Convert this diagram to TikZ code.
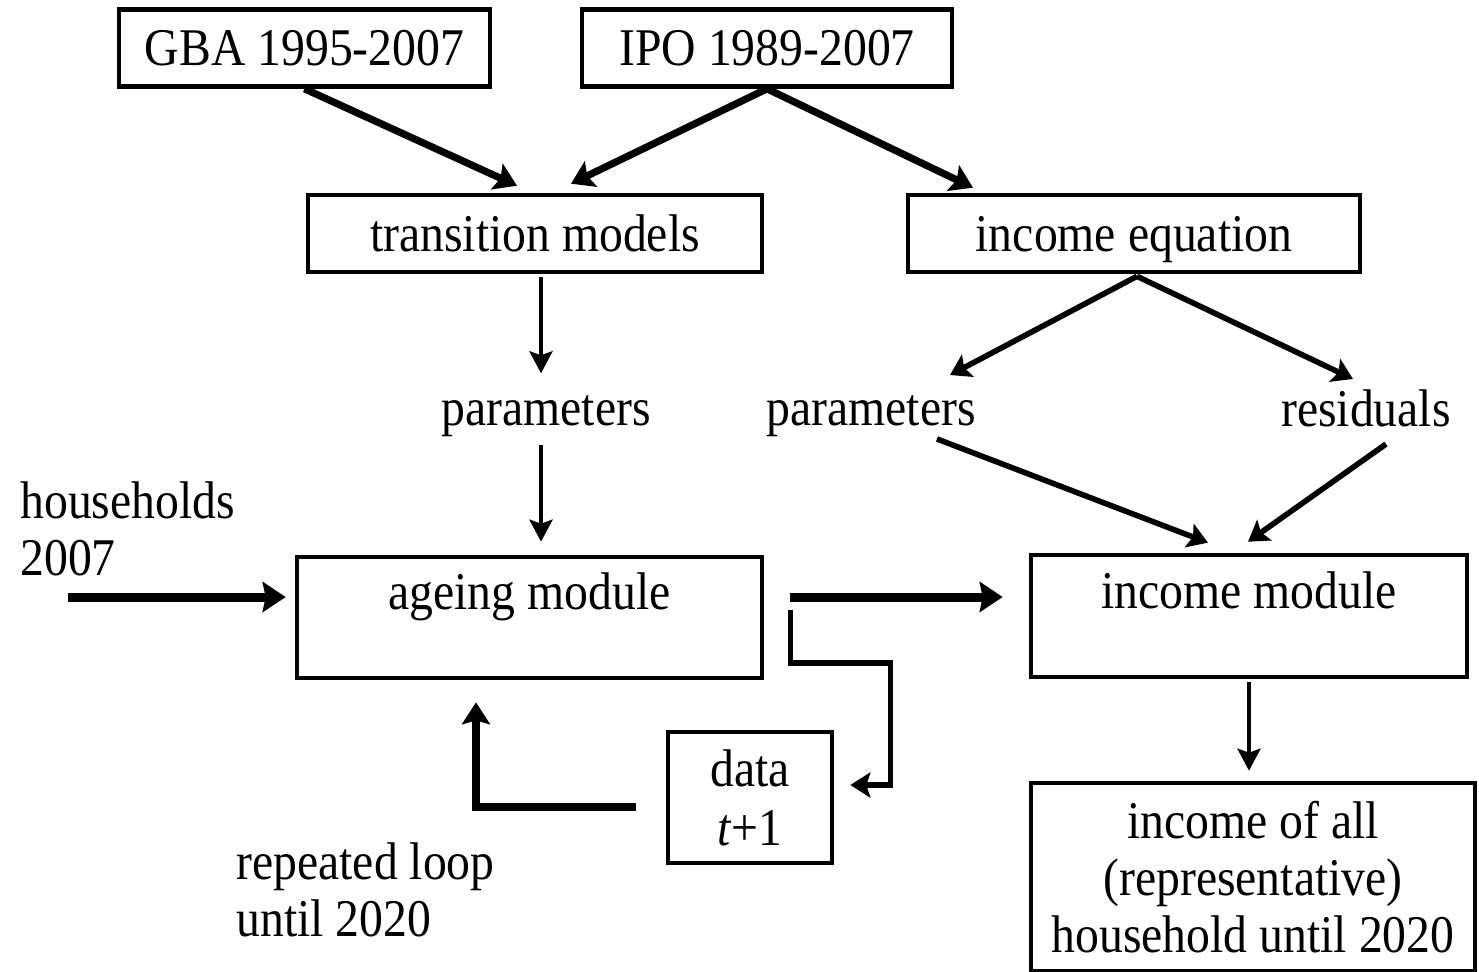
\documentclass[tikz,border=0pt]{standalone}
\usepackage{fontspec}
\setmainfont[FakeStretch=0.9]{Liberation Serif}
\usetikzlibrary{arrows.meta,calc}
\begin{document}
\begin{tikzpicture}[x=0.5pt,y=-0.5pt,
  every node/.style={font=\fontsize{26.5}{28.5}\selectfont, inner sep=0pt},
  box/.style={draw, line width=2.3pt},
  heavy/.style={-{Stealth[length=11pt,width=14pt,inset=2pt]}, line width=3.6pt},
  medium/.style={-{Stealth[length=10pt,width=12.5pt,inset=2pt]}, line width=2.8pt},
  light/.style={-{Stealth[length=11pt,width=11.5pt,inset=2pt]}, line width=2.1pt},
  bold/.style={-{Stealth[length=11.5pt,width=15pt,inset=1.5pt]}, line width=4.5pt}
]
\useasboundingbox (0,0) rectangle (1479,971);

% boxes
\node[box, minimum width=185.5pt, minimum height=38.5pt] (gba) at (304.5,48) {GBA 1995-2007};
\node[box, minimum width=185pt, minimum height=38.5pt] (ipo) at (767,48) {IPO 1989-2007};
\node[box, minimum width=227pt, minimum height=38.5pt] (tm) at (535,233.5) {transition models};
\node[box, minimum width=226pt, minimum height=38.5pt, text depth=0pt] (ie) at (1134,233.5) {income equation};

% free text
\node (pl) at (546,416) {parameters};
\node (pr) at (871,416) {parameters};
\node (res) at (1366,408) {residuals};
\node[anchor=west, align=left] (hh) at (20,528.5) {households\\2007};
\node[anchor=west, align=left] (rl) at (236,890) {repeated loop\\until 2020};

% modules
\node[box, minimum width=232.5pt, minimum height=60.5pt,
  label={[anchor=center, yshift=-21pt]north:ageing module}] (am) at (529.5,617.5) {};
\node[box, minimum width=218pt, minimum height=61pt,
  label={[anchor=center, yshift=-19pt]north:income module}] (im) at (1249,616) {};
\node[box, minimum width=82pt, minimum height=65.5pt, align=center] (data) at (750,797.5) {data\\[1pt]\textit{t}+1};
\node[box, minimum width=222pt, minimum height=94pt, align=center] (out) at (1253,877)
  {income of all\\(representative)\\household until 2020};

% arrows from data sources
\draw[heavy] (gba.south) -- ($(tm.north)+(-18,-7)$);
\draw[heavy] (ipo.south) -- ($(tm.north)+(36,-9)$);
\draw[heavy] (ipo.south) -- ($(ie.north)+(-161,-5)$);

% transition models branch
\draw[light] ($(tm.south)+(6,3)$) -- ($(tm.south)+(6,99)$);
\draw[light] ($(pl.south)+(-5,8)$) -- ($(am.north)+(11.5,-13)$);

% income equation branch
\draw[medium] ($(ie.south)+(3,2)$) -- ($(pr.north)+(79,-20)$);
\draw[medium] ($(ie.south)+(3,2)$) -- ($(res.north)+(-13,-10)$);
\draw[medium] ($(pr.south)+(66,2)$) -- ($(im.north)+(-41,-10)$);
\draw[medium] ($(res.south)+(20,17)$) -- ($(im.north)+(-1,-11)$);

% households in
\draw[bold] ($(hh.west)+(48,68.5)$) -- ($(am.west)+(-9,-20.5)$);
% ageing -> income module
\draw[bold] ($(am.east)+(26,-20.5)$) -- ($(im.west)+(-26,-19)$);
% loop to data
\draw[medium] ($(am.east)+(26,-8)$) |- ($(am.east)+(126,45.5)$) |- ($(data.east)+(16,-12.5)$);
% loop back
\draw[heavy] ($(data.west)+(-30,9.5)$) -| ($(am.south)+(-53.5,22)$);
% income module -> output
\draw[light] ($(im.south)+(0,3)$) -- ($(out.north)+(-4,-10)$);
\end{tikzpicture}
\end{document}
